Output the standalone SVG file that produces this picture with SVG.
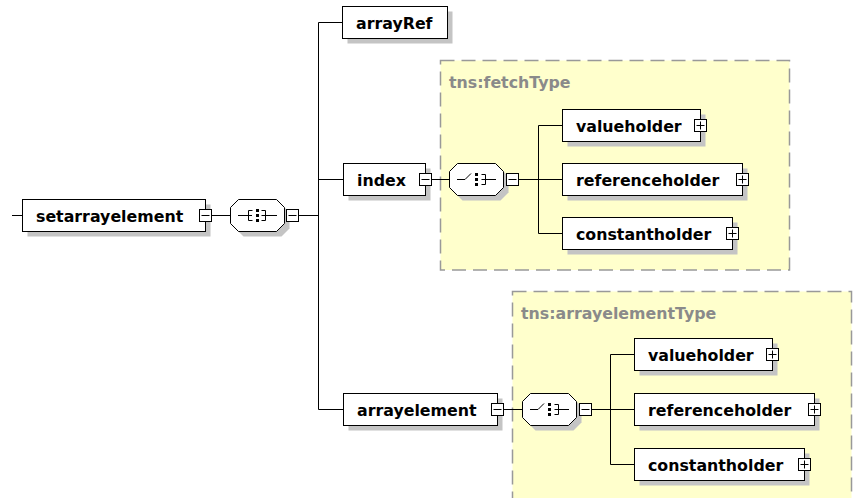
<svg xmlns="http://www.w3.org/2000/svg" width="853" height="498" viewBox="0 0 853 498">
<style>
.bg{fill:#ffffff}
.type{fill:#ffffcc;stroke:#999999;stroke-width:1.5;stroke-dasharray:14 7}
.tlabel{font-family:"DejaVu Sans",Verdana,sans-serif;font-weight:bold;font-size:15.8px;fill:#8a8a8a}
.box{fill:#ffffff;stroke:#000000;stroke-width:1}
.sh{fill:#c4c4c4}
.lbl{font-family:"DejaVu Sans",Verdana,sans-serif;font-weight:bold;font-size:15.8px;fill:#000000}
.btn{fill:#ffffff;stroke:#000000;stroke-width:1}
.sign{fill:none;stroke:#000000;stroke-width:1}
.conn{fill:none;stroke:#000000;stroke-width:1}
.icon{fill:none;stroke:#000000;stroke-width:1}
.dot{fill:#000000}
</style>
<rect class="bg" x="0" y="0" width="853" height="498"/>

<g id="type-fetchType">
<rect class="type" x="440.5" y="60.5" width="349" height="209.5"/>
<text class="tlabel" x="449" y="88">tns:fetchType</text>
</g>
<g id="type-arrayelementType">
<rect class="type" x="512.5" y="291.5" width="339" height="230"/>
<text class="tlabel" x="521" y="319">tns:arrayelementType</text>
</g>

<g id="connectors">
<path class="conn" d="M12 215.5 H22.5"/>
<path class="conn" d="M211.5 215.5 H230.5"/>
<path class="conn" d="M298.5 215.5 H318.5"/>
<path class="conn" d="M318.5 22.5 V409.5"/>
<path class="conn" d="M318.5 22.5 H342.5"/>
<path class="conn" d="M318.5 179.5 H343.5"/>
<path class="conn" d="M318.5 409.5 H343.5"/>
<path class="conn" d="M431.5 179.5 H449.5"/>
<path class="conn" d="M518.5 179.5 H538.5"/>
<path class="conn" d="M538.5 125.5 V233.5"/>
<path class="conn" d="M538.5 125.5 H562.5"/>
<path class="conn" d="M538.5 179.5 H562.5"/>
<path class="conn" d="M538.5 233.5 H562.5"/>
<path class="conn" d="M503.5 409.5 H522.5"/>
<path class="conn" d="M591.5 409.5 H610.5"/>
<path class="conn" d="M610.5 354.5 V464.5"/>
<path class="conn" d="M610.5 354.5 H634.5"/>
<path class="conn" d="M610.5 409.5 H634.5"/>
<path class="conn" d="M610.5 464.5 H634.5"/>
</g>

<g id="setarrayelement">
<rect class="sh" x="27.5" y="204.5" width="183" height="32"/>
<rect class="box" x="22.5" y="199.5" width="183" height="32"/>
<text class="lbl" x="36" y="221.5">setarrayelement</text>
<rect class="btn" x="199.5" y="209.5" width="12" height="12"/>
<path class="sign" d="M201.5 215.5 H209.5"/>
</g>

<g id="sequence1">
<path class="sh" d="M243.5 204.5 H281.5 L289.5 212.5 V228.5 L281.5 236.5 H243.5 L235.5 228.5 V212.5 Z"/>
<path class="box" d="M238.5 199.5 H276.5 L284.5 207.5 V223.5 L276.5 231.5 H238.5 L230.5 223.5 V207.5 Z"/>
<path class="icon" d="M238 215.5 H252 M252.5 210.5 H248.5 V220.5 H252.5 M261.5 210.5 H265.5 V220.5 H261.5 M261.5 215.5 H277"/>
<rect class="dot" x="256" y="209" width="3" height="3"/>
<rect class="dot" x="256" y="214" width="3" height="3"/>
<rect class="dot" x="256" y="219" width="3" height="3"/>
<rect class="btn" x="286.5" y="209.5" width="12" height="12"/>
<path class="sign" d="M288.5 215.5 H296.5"/>
</g>

<g id="arrayRef">
<rect class="sh" x="347.5" y="11.5" width="105" height="32"/>
<rect class="box" x="342.5" y="6.5" width="105" height="32"/>
<text class="lbl" x="356" y="28.5">arrayRef</text>
</g>

<g id="index">
<rect class="sh" x="348.5" y="168.5" width="82" height="32"/>
<rect class="box" x="343.5" y="163.5" width="82" height="32"/>
<text class="lbl" x="357" y="185.5">index</text>
<rect class="btn" x="419.5" y="173.5" width="12" height="12"/>
<path class="sign" d="M421.5 179.5 H429.5"/>
</g>

<g id="choice1">
<path class="sh" d="M462.5 168.5 H500.5 L508.5 176.5 V192.5 L500.5 200.5 H462.5 L454.5 192.5 V176.5 Z"/>
<path class="box" d="M457.5 163.5 H495.5 L503.5 171.5 V187.5 L495.5 195.5 H457.5 L449.5 187.5 V171.5 Z"/>
<path class="icon" d="M457 179.5 H465 L471 173.5 M481.5 174.5 H485.5 V184.5 H481.5 M481.5 179.5 H496"/>
<rect class="dot" x="475" y="173" width="3" height="3"/>
<rect class="dot" x="475" y="178" width="3" height="3"/>
<rect class="dot" x="475" y="183" width="3" height="3"/>
<rect class="btn" x="506.5" y="173.5" width="12" height="12"/>
<path class="sign" d="M508.5 179.5 H516.5"/>
</g>

<g id="valueholder1">
<rect class="sh" x="567.5" y="114.5" width="138" height="32"/>
<rect class="box" x="562.5" y="109.5" width="138" height="32"/>
<text class="lbl" x="576" y="131.5">valueholder</text>
<rect class="btn" x="694.5" y="119.5" width="12" height="12"/>
<path class="sign" d="M696.5 125.5 H704.5 M700.5 121.5 V129.5"/>
</g>

<g id="referenceholder1">
<rect class="sh" x="567.5" y="168.5" width="180" height="32"/>
<rect class="box" x="562.5" y="163.5" width="180" height="32"/>
<text class="lbl" x="576" y="185.5">referenceholder</text>
<rect class="btn" x="736.5" y="173.5" width="12" height="12"/>
<path class="sign" d="M738.5 179.5 H746.5 M742.5 175.5 V183.5"/>
</g>

<g id="constantholder1">
<rect class="sh" x="567.5" y="222.5" width="170" height="32"/>
<rect class="box" x="562.5" y="217.5" width="170" height="32"/>
<text class="lbl" x="576" y="239.5">constantholder</text>
<rect class="btn" x="726.5" y="227.5" width="12" height="12"/>
<path class="sign" d="M728.5 233.5 H736.5 M732.5 229.5 V237.5"/>
</g>

<g id="arrayelement">
<rect class="sh" x="348.5" y="398.5" width="154" height="32"/>
<rect class="box" x="343.5" y="393.5" width="154" height="32"/>
<text class="lbl" x="357" y="415.5">arrayelement</text>
<rect class="btn" x="491.5" y="403.5" width="12" height="12"/>
<path class="sign" d="M493.5 409.5 H501.5"/>
</g>

<g id="choice2">
<path class="sh" d="M535.5 398.5 H573.5 L581.5 406.5 V422.5 L573.5 430.5 H535.5 L527.5 422.5 V406.5 Z"/>
<path class="box" d="M530.5 393.5 H568.5 L576.5 401.5 V417.5 L568.5 425.5 H530.5 L522.5 417.5 V401.5 Z"/>
<path class="icon" d="M530 409.5 H538 L544 403.5 M554.5 404.5 H558.5 V414.5 H554.5 M554.5 409.5 H569"/>
<rect class="dot" x="548" y="403" width="3" height="3"/>
<rect class="dot" x="548" y="408" width="3" height="3"/>
<rect class="dot" x="548" y="413" width="3" height="3"/>
<rect class="btn" x="579.5" y="403.5" width="12" height="12"/>
<path class="sign" d="M581.5 409.5 H589.5"/>
</g>

<g id="valueholder2">
<rect class="sh" x="639.5" y="343.5" width="138" height="32"/>
<rect class="box" x="634.5" y="338.5" width="138" height="32"/>
<text class="lbl" x="648" y="360.5">valueholder</text>
<rect class="btn" x="766.5" y="348.5" width="12" height="12"/>
<path class="sign" d="M768.5 354.5 H776.5 M772.5 350.5 V358.5"/>
</g>

<g id="referenceholder2">
<rect class="sh" x="639.5" y="398.5" width="180" height="32"/>
<rect class="box" x="634.5" y="393.5" width="180" height="32"/>
<text class="lbl" x="648" y="415.5">referenceholder</text>
<rect class="btn" x="808.5" y="403.5" width="12" height="12"/>
<path class="sign" d="M810.5 409.5 H818.5 M814.5 405.5 V413.5"/>
</g>

<g id="constantholder2">
<rect class="sh" x="639.5" y="453.5" width="170" height="32"/>
<rect class="box" x="634.5" y="448.5" width="170" height="32"/>
<text class="lbl" x="648" y="470.5">constantholder</text>
<rect class="btn" x="798.5" y="458.5" width="12" height="12"/>
<path class="sign" d="M800.5 464.5 H808.5 M804.5 460.5 V468.5"/>
</g>
</svg>
